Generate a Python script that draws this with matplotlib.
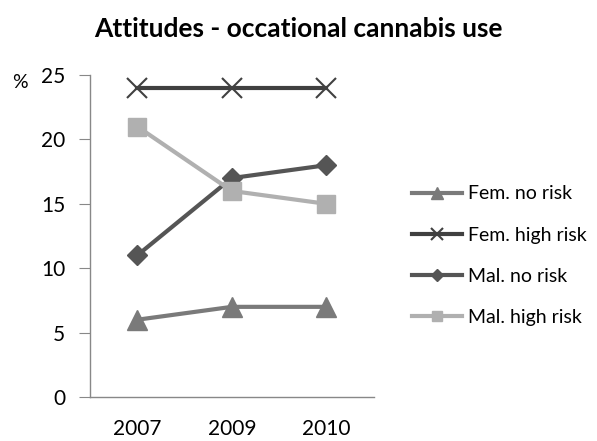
import matplotlib.pyplot as plt

# Данные по годам
years = ['2007', '2009', '2010']
fem_no_risk = [6, 7, 7]
fem_high_risk = [24, 24, 24]
mal_no_risk = [11, 17, 18]
mal_high_risk = [21, 16, 15]

plt.rcParams['font.family'] = ['Lato', 'DejaVu Sans']

fig = plt.figure(figsize=(5.97, 4.41), dpi=100)
ax = fig.add_axes([0.1508, 0.0998, 0.475, 0.730])

x = [i + 0.5 for i in range(len(years))]
ax.plot(x, fem_no_risk, color='#7a7a7a', lw=3, marker='^', ms=14,
        label='Fem. no risk')
ax.plot(x, fem_high_risk, color='#404040', lw=3, marker='x', ms=14,
        mew=1.5, label='Fem. high risk')
ax.plot(x, mal_no_risk, color='#555555', lw=3, marker='D', ms=10,
        label='Mal. no risk')
ax.plot(x, mal_high_risk, color='#b0b0b0', lw=3, marker='s', ms=13,
        label='Mal. high risk')

ax.set_xlim(0, 3)
ax.set_ylim(0, 25)
ax.set_xticks(x)
ax.set_xticklabels(years)
ax.set_yticks(range(0, 26, 5))
ax.tick_params(axis='x', length=0, pad=16, labelsize=15)
ax.tick_params(axis='y', length=8, color='#888888', pad=10, labelsize=15)

for side in ['top', 'right']:
    ax.spines[side].set_visible(False)
for side in ['left', 'bottom']:
    ax.spines[side].set_color('#888888')
    ax.spines[side].set_linewidth(1)

fig.text(0.02, 0.812, '%', fontsize=14, va='center')
fig.text(0.5, 0.935, 'Attitudes - occational cannabis use', ha='center',
         va='center', fontsize=19, fontweight='bold')

ax.legend(loc='center left', bbox_to_anchor=(0.66, 0.42),
          bbox_transform=fig.transFigure, frameon=False, fontsize=14,
          markerscale=0.6, handlelength=2.6, handletextpad=0.3,
          labelspacing=1.25)

fig.savefig('out.png', dpi=100)
